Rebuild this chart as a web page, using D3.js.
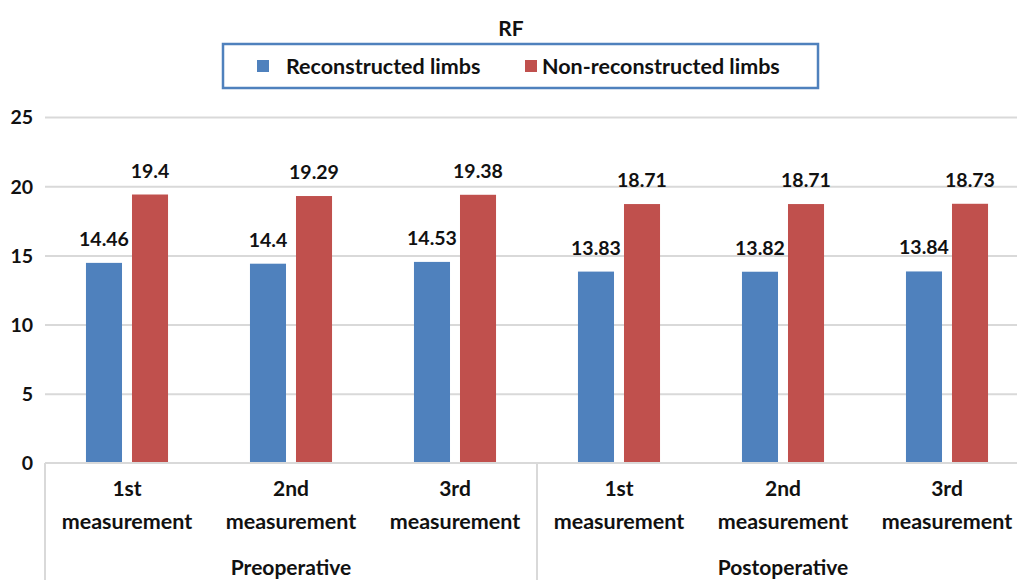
<!DOCTYPE html>
<html><head><meta charset="utf-8">
<script src="https://cdn.jsdelivr.net/npm/d3@7"></script>
<style>body{margin:0;background:#fff}svg{display:block}text{font-family:Lato,"Open Sans",sans-serif}</style>
</head><body>
<svg id="c" width="1017" height="580"></svg>
<script>
const phases = ["Preoperative","Postoperative"];
const measurements = ["1st","2nd","3rd"];
const categories = ["Pre-1st","Pre-2nd","Pre-3rd","Post-1st","Post-2nd","Post-3rd"];
const seriesNames = ["Reconstructed limbs","Non-reconstructed limbs"];
const reconstructed = [14.46,14.4,14.53,13.83,13.82,13.84];
const nonReconstructed = [19.4,19.29,19.38,18.71,18.71,18.73];
const yTicks = [0,5,10,15,20,25];
const colors = ["#4f81bd","#c0504d"];

const svg = d3.select("#c");
const x0 = 45, x1 = 1029, yTop = 117, yBot = 463;
const x = d3.scaleBand().domain(categories).range([x0,x1]).paddingInner(0).paddingOuter(0);
const y = d3.scaleLinear().domain([0,25]).range([yBot,yTop]);
const xs = d3.scaleBand().domain(seriesNames).range([0,x.bandwidth()]).paddingInner(0.217).paddingOuter(0.89);
const ink = "#111";

// gridlines
const yAxis = d3.axisLeft(y).tickValues(yTicks).tickSize(-(x1-x0)).tickFormat(d3.format("d"));
const gy = svg.append("g").attr("transform",`translate(${x0},0)`).call(yAxis);
gy.select(".domain").remove();
gy.selectAll(".tick line").attr("stroke","#d9d9d9").attr("stroke-width",2);
gy.selectAll(".tick text").attr("x",-12).attr("dy","0.35em").attr("font-size",19.5).attr("font-weight","bold").attr("fill",ink).attr("font-family","Lato");
gy.selectAll(".tick").filter(d=>d===0).select("line").remove();

// bars
const data = categories.map((c,i)=>({c, vals:[reconstructed[i],nonReconstructed[i]]}));
const grp = svg.append("g").selectAll("g").data(data).join("g").attr("transform",d=>`translate(${x(d.c)},0)`);
grp.selectAll("rect").data(d=>d.vals.map((v,j)=>({s:seriesNames[j],v,j}))).join("rect")
  .attr("x",d=>xs(d.s)).attr("width",xs.bandwidth())
  .attr("y",d=>y(d.v)).attr("height",d=>yBot-y(d.v)).attr("fill",d=>colors[d.j]);
grp.selectAll("text.lab").data(d=>d.vals.map((v,j)=>({s:seriesNames[j],v,j}))).join("text").attr("class","lab")
  .attr("x",d=>xs(d.s)+xs.bandwidth()/2).attr("y",d=>y(d.v)-17)
  .attr("text-anchor","middle").attr("font-size",19.5).attr("font-weight","bold").attr("fill",ink)
  .text(d=>String(d.v));

// x axis line
svg.append("line").attr("x1",x0).attr("x2",x1).attr("y1",yBot).attr("y2",yBot).attr("stroke","#d9d9d9").attr("stroke-width",2);
// dividers
[0,3].forEach(i=>{
  const xx = x(categories[i]);
  svg.append("line").attr("x1",xx).attr("x2",xx).attr("y1",yBot).attr("y2",580).attr("stroke","#d9d9d9").attr("stroke-width",2);
});
// category labels
categories.forEach((c,i)=>{
  const cx = x(c)+x.bandwidth()/2;
  svg.append("text").attr("x",cx).attr("y",496).attr("text-anchor","middle").attr("font-size",21).attr("font-weight","bold").attr("fill",ink).text(measurements[i%3]);
  svg.append("text").attr("x",cx).attr("y",529).attr("text-anchor","middle").attr("font-size",21.5).attr("font-weight","bold").attr("fill",ink).text("measurement");
});
phases.forEach((p,k)=>{
  const a = x(categories[k*3]), b = x(categories[k*3+2])+x.bandwidth();
  svg.append("text").attr("x",(a+b)/2).attr("y",575).attr("text-anchor","middle").attr("font-size",21).attr("font-weight","bold").attr("fill",ink).text(p);
});

// title
svg.append("text").attr("x",511).attr("y",36).attr("text-anchor","middle").attr("font-size",21).attr("font-weight","bold").attr("fill",ink).text("RF");
// legend
svg.append("rect").attr("x",223).attr("y",44).attr("width",595).attr("height",44).attr("fill","#fff").attr("stroke","#4f81bd").attr("stroke-width",2.5);
const lg = [[257,286],[525,542]];
seriesNames.forEach((s,j)=>{
  svg.append("rect").attr("x",lg[j][0]).attr("y",60).attr("width",12).attr("height",12).attr("fill",colors[j]);
  svg.append("text").attr("x",lg[j][1]).attr("y",74).attr("font-size",21.5).attr("font-weight","bold").attr("fill",ink).text(s);
});
</script>
</body></html>
